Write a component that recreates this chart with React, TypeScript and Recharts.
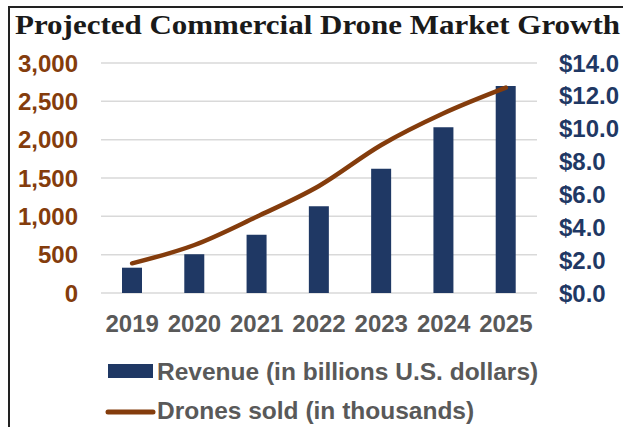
import React from 'react';
import { ComposedChart, Bar, Line, XAxis, YAxis, CartesianGrid } from 'recharts';

const years = ['2019', '2020', '2021', '2022', '2023', '2024', '2025'];
const revenueBillions = [1.54, 2.36, 3.55, 5.28, 7.57, 10.09, 12.6];
const dronesThousands = [387, 626, 995, 1396, 1930, 2344, 2678];
const leftTicks = [0, 500, 1000, 1500, 2000, 2500, 3000];
const rightTicks = [0, 2, 4, 6, 8, 10, 12, 14];

const data = years.map((y, i) => ({ year: y, revenue: revenueBillions[i], drones: dronesThousands[i] }));

const NAVY = '#1F3864';
const BROWN = '#843C0C';
const GRAY = '#595959';
const SANS = '"Liberation Sans", Arial, sans-serif';

const fmtThousands = (v: number) => String(v).replace(/\B(?=(\d{3})+(?!\d))/g, ',');
const fmtDollars = (v: number) => `$${v.toFixed(1)}`;

export default function App() {
  return (
    <div style={{ position: 'absolute', left: 0, top: 0, width: 623, height: 427, background: '#fff', overflow: 'hidden' }}>
      <svg width={623} height={427} style={{ position: 'absolute', left: 0, top: 0 }}>
        <line x1={8} y1={7} x2={623} y2={7} stroke="#222" strokeWidth={2} />
        <line x1={9} y1={6} x2={9} y2={427} stroke="#222" strokeWidth={2} />
        <text x={15} y={34} fontFamily='"Liberation Serif", "Times New Roman", serif' fontWeight="bold" fontSize={27} fill="#1a1a1a" textLength={605} lengthAdjust="spacingAndGlyphs">
          Projected Commercial Drone Market Growth
        </text>
      </svg>
      <div style={{ position: 'absolute', left: 0, top: 0 }}>
        <ComposedChart width={623} height={427} data={data} margin={{ top: 63, right: 0, bottom: 94, left: 0 }}>
          <CartesianGrid yAxisId="left" vertical={false} stroke="#D9D9D9" strokeWidth={1.5} />
          <XAxis
            dataKey="year"
            axisLine={false}
            tickLine={false}
            tickSize={0}
            tickMargin={22}
            height={40}
            tick={{ fill: GRAY, fontFamily: SANS, fontWeight: 'bold', fontSize: 24 }}
          />
          <YAxis
            yAxisId="left"
            orientation="left"
            width={101}
            domain={[0, 3000]}
            ticks={leftTicks}
            tickFormatter={fmtThousands}
            axisLine={false}
            tickLine={false}
            tickSize={0}
            tickMargin={23}
            tick={{ fill: BROWN, fontFamily: SANS, fontWeight: 'bold', fontSize: 24 }}
          />
          <YAxis
            yAxisId="right"
            orientation="right"
            width={86}
            domain={[0, 14]}
            ticks={rightTicks}
            tickFormatter={fmtDollars}
            axisLine={false}
            tickLine={false}
            tickSize={0}
            tickMargin={22}
            tick={{ fill: NAVY, fontFamily: SANS, fontWeight: 'bold', fontSize: 24 }}
          />
          <Bar yAxisId="right" dataKey="revenue" fill={NAVY} barSize={20} isAnimationActive={false} />
          <Line
            yAxisId="left"
            type="monotone"
            dataKey="drones"
            stroke={BROWN}
            strokeWidth={4.5}
            strokeLinecap="round"
            dot={false}
            activeDot={false}
            isAnimationActive={false}
          />
        </ComposedChart>
      </div>
      <svg width={623} height={427} style={{ position: 'absolute', left: 0, top: 0, pointerEvents: 'none' }}>
        <rect x={108} y={364} width={45} height={14} fill={NAVY} />
        <text x={157} y={380} fontFamily={SANS} fontWeight="bold" fontSize={24.5} fill={GRAY}>
          Revenue (in billions U.S. dollars)
        </text>
        <line x1={108} y1={412} x2={153} y2={412} stroke={BROWN} strokeWidth={5} strokeLinecap="round" />
        <text x={157} y={418.5} fontFamily={SANS} fontWeight="bold" fontSize={24.5} fill={GRAY}>
          Drones sold (in thousands)
        </text>
      </svg>
    </div>
  );
}
